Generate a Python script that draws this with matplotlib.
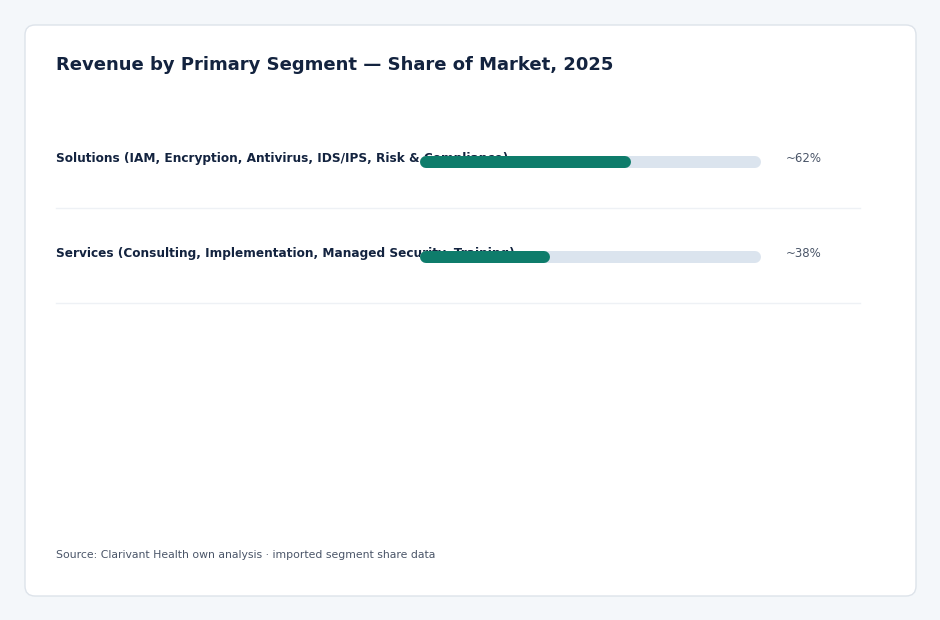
import matplotlib
matplotlib.use("Agg")
import matplotlib.pyplot as plt
from matplotlib.patches import FancyBboxPatch
from matplotlib.transforms import IdentityTransform, blended_transform_factory

categories = [
    "Solutions (IAM, Encryption, Antivirus, IDS/IPS, Risk & Compliance)",
    "Services (Consulting, Implementation, Managed Security, Training)",
]
shares = [62, 38]
value_labels = ["~62%", "~38%"]
title = "Revenue by Primary Segment \u2014 Share of Market, 2025"
source = "Source: Clarivant Health own analysis \u00b7 imported segment share data"

W, H = 940, 620
fig = plt.figure(figsize=(W / 100, H / 100), dpi=100)
fig.patch.set_facecolor("#f4f7fa")

card = FancyBboxPatch((25.0, 24.0), 891, 571, boxstyle="round,pad=0,rounding_size=10",
                      transform=IdentityTransform(), facecolor="white",
                      edgecolor="#dde3ea", linewidth=1.0, zorder=-10)
fig.add_artist(card)

fig.text(56 / W, 1 - 65 / H, title, fontsize=13, fontweight="bold",
         color="#13233f", ha="left", va="center")

# axes spanning x 56..860 px, y 113..303 px
ax_left, ax_right = 56, 860
ax_top, ax_bot = 113, 303
ax = fig.add_axes([ax_left / W, 1 - ax_bot / H, (ax_right - ax_left) / W, (ax_bot - ax_top) / H])
ax.set_zorder(5)
ax.set_facecolor("none")
for s in ax.spines.values():
    s.set_visible(False)
ax.set_xticks([])
ax.set_yticks([])

x0_px, x100_px = 420, 761
ppu = (x100_px - x0_px) / 100.0
ax.set_xlim(-(x0_px - ax_left) / ppu, 100 + (ax_right - x100_px) / ppu)
n = len(categories)
ax.set_ylim(n, 0)

bar_px = 12
lw = bar_px * 72 / 100
r = (bar_px / 2) / ppu
bt = blended_transform_factory(ax.transAxes, ax.transData)
for i, (cat, v, vl) in enumerate(zip(categories, shares, value_labels)):
    yb = i + 0.515
    yt = i + 0.474
    ax.text(0, yt, cat, transform=bt, fontsize=8.7, fontweight="bold", color="#13233f",
            ha="left", va="center", zorder=1)
    ax.plot([r, 100 - r], [yb, yb], color="#dbe4ee", linewidth=lw, solid_capstyle="round", zorder=2)
    ax.plot([r, v - r], [yb, yb], color="#0e7c6b", linewidth=lw, solid_capstyle="round", zorder=3)
    ax.text((786 - ax_left) / (ax_right - ax_left), yt, vl, transform=bt, fontsize=8.5,
            color="#4a5568", ha="left", va="center")
    ax.axhline(i + 1, color="#eef1f5", linewidth=1.0, zorder=0, clip_on=False)

fig.text(56 / W, 1 - 555 / H, source, fontsize=7.8, color="#4a5568", ha="left", va="center")

fig.savefig("out.png", dpi=100, facecolor=fig.get_facecolor())
